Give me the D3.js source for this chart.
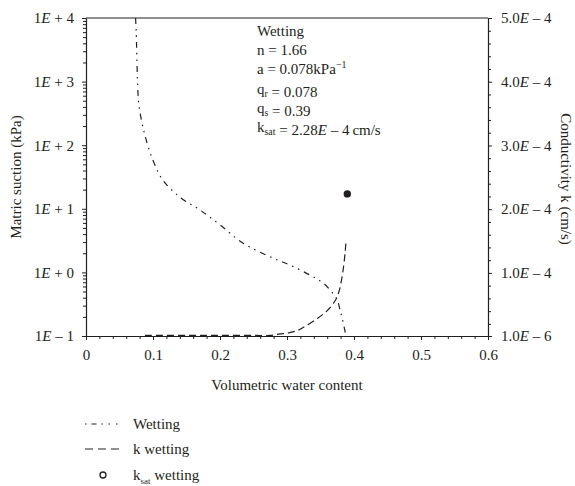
<!DOCTYPE html>
<html><head><meta charset="utf-8">
<script src="https://cdn.jsdelivr.net/npm/d3@7"></script>
<style>
body{margin:0;background:#fff;}
svg text{font-family:"Liberation Serif","Times New Roman",serif;fill:#231f20;}
</style></head>
<body><svg id="c" width="575" height="486"></svg>
<script>
// Wetting SWCC (volumetric water content vs matric suction, kPa)
const swccTheta   = [0.074,0.075,0.077,0.079,0.087,0.100,0.115,0.140,0.170,0.200,0.234,0.279,0.304,0.334,0.354,0.367,0.375,0.379,0.384,0.388];
const swccSuction = [10000,5800,950,430,156,58,28,15.3,9.6,5.6,2.9,1.68,1.31,0.91,0.68,0.49,0.37,0.26,0.16,0.1];
// k wetting (volumetric water content vs conductivity, cm/s)
const kTheta = [0.088,0.150,0.200,0.250,0.275,0.290,0.304,0.315,0.324,0.345,0.360,0.372,0.378,0.382,0.385,0.387,0.388];
const kValue = [2e-6,2e-6,2e-6,2e-6,2e-6,4.2e-6,6.3e-6,9.4e-6,1.42e-5,2.83e-5,4.09e-5,5.66e-5,7.23e-5,9.28e-5,1.148e-4,1.35e-4,1.48e-4];
// k_sat point
const ksatTheta = [0.39];
const ksatValue = [2.24e-4];
// ticks
const xTicks = [0,0.1,0.2,0.3,0.4,0.5,0.6];
const xTickLabels = ["0","0.1","0.2","0.3","0.4","0.5","0.6"];
const leftTicks = [0.1,1,10,100,1000,10000];
const leftTickExp = ["– 1","+ 0","+ 1","+ 2","+ 3","+ 4"];
const rightTicks = [1e-6,1e-4,2e-4,3e-4,4e-4,5e-4];
const rightTickMant = ["1.0","1.0","2.0","3.0","4.0","5.0"];
const rightTickExp = ["– 6","– 4","– 4","– 4","– 4","– 4"];
const annotation = ["Wetting","n = 1.66","a = 0.078kPa","q_r = 0.078","q_s = 0.39","k_sat = 2.28E – 4cm/s"];
const legendLabels = ["Wetting","k wetting","k_sat wetting"];

const svg = d3.select("#c");
const L=86,R=488,T=18,B=336;
const x = d3.scaleLinear().domain([0,0.6]).range([L,R]);
const yL = d3.scaleLog().domain([0.1,1e4]).range([B,T]);
const yR = d3.scaleLinear().domain([1e-6,5e-4]).range([B,T]);
const ink="#231f20";
const fs=15;

// top border
svg.append("line").attr("x1",L).attr("x2",R).attr("y1",T).attr("y2",T).attr("stroke",ink).attr("stroke-width",1.2);

function styleAxis(g){
  g.selectAll("path.domain").attr("stroke",ink).attr("stroke-width",1.2);
  g.selectAll(".tick line").attr("stroke",ink).attr("stroke-width",1);
  g.selectAll("text").attr("font-size",fs).attr("fill",ink).attr("font-family","Liberation Serif, serif");
}

// bottom axis
const minorX = d3.range(0,0.6001,0.02).filter(v=>Math.abs(Math.round(v*10)-v*10)>1e-6);
const gxm = svg.append("g").attr("transform",`translate(0,${B})`)
  .call(d3.axisBottom(x).tickValues(minorX).tickSize(3).tickFormat("").tickSizeOuter(0));
styleAxis(gxm); gxm.select("path.domain").remove();
const gx = svg.append("g").attr("transform",`translate(0,${B})`)
  .call(d3.axisBottom(x).tickValues(xTicks).tickSize(4).tickPadding(9).tickSizeOuter(0)
    .tickFormat((d,i)=>xTickLabels[i]));
styleAxis(gx);

// left axis (log)
const minorL=[];
for(let e=-1;e<4;e++){for(let m=2;m<=9;m++){minorL.push(m*Math.pow(10,e));}}
const gym = svg.append("g").attr("transform",`translate(${L},0)`)
  .call(d3.axisLeft(yL).tickValues(minorL).tickSize(3).tickFormat("").tickSizeOuter(0));
styleAxis(gym); gym.select("path.domain").remove();
const gy = svg.append("g").attr("transform",`translate(${L},0)`)
  .call(d3.axisLeft(yL).tickValues(leftTicks).tickSize(4).tickPadding(8).tickSizeOuter(0).tickFormat(()=>""));
styleAxis(gy);
gy.selectAll(".tick text").each(function(d,i){
  const t=d3.select(this); t.text(null);
  t.append("tspan").text("1");
  t.append("tspan").attr("font-style","italic").text("E");
  t.append("tspan").text(" "+leftTickExp[i]);
});

// right axis (linear)
const minorR = d3.range(1,25).map(i=>i*2e-5).filter((v,i)=>(i+1)%5!==0);
const grm = svg.append("g").attr("transform",`translate(${R},0)`)
  .call(d3.axisRight(yR).tickValues(minorR).tickSize(3).tickFormat("").tickSizeOuter(0));
styleAxis(grm); grm.select("path.domain").remove();
const gr = svg.append("g").attr("transform",`translate(${R},0)`)
  .call(d3.axisRight(yR).tickValues(rightTicks).tickSize(4).tickPadding(9).tickSizeOuter(0).tickFormat(()=>""));
styleAxis(gr);
gr.selectAll(".tick text").each(function(d,i){
  const t=d3.select(this); t.text(null);
  t.append("tspan").text(rightTickMant[i]);
  t.append("tspan").attr("font-style","italic").text("E");
  t.append("tspan").text(" "+rightTickExp[i]);
});

// axis titles
svg.append("text").attr("x",(L+R)/2).attr("y",390).attr("text-anchor","middle").attr("font-size",fs).text("Volumetric water content");
svg.append("text").attr("transform",`translate(21,${(T+B)/2}) rotate(-90)`).attr("text-anchor","middle").attr("font-size",fs).text("Matric suction (kPa)");
svg.append("text").attr("transform",`translate(561,${(T+B)/2+2}) rotate(90)`).attr("text-anchor","middle").attr("font-size",fs).text("Conductivity k (cm/s)");

// curves
const swcc = swccTheta.map((t,i)=>[t,swccSuction[i]]);
const kData = kTheta.map((t,i)=>[t,kValue[i]]);
svg.append("path").datum(swcc)
  .attr("d",d3.line().x(d=>x(d[0])).y(d=>yL(d[1])).curve(d3.curveCatmullRom.alpha(0.5)))
  .attr("fill","none").attr("stroke",ink).attr("stroke-width",1.2)
  .attr("stroke-dasharray","6,5,1.5,5,1.5,5");
svg.append("path").datum(kData)
  .attr("d",d3.line().x(d=>x(d[0])).y(d=>yR(d[1])).curve(d3.curveCatmullRom.alpha(0.5)))
  .attr("fill","none").attr("stroke",ink).attr("stroke-width",1.2)
  .attr("stroke-dasharray","7,4");
svg.selectAll("circle.ksat").data(ksatTheta.map((t,i)=>[t,ksatValue[i]])).enter()
  .append("circle").attr("class","ksat").attr("cx",d=>x(d[0])).attr("cy",d=>yR(d[1])).attr("r",3.7).attr("fill",ink);

// annotation
function richText(sel, s){
  const m = s.match(/^(\w)_(\w+)(.*)$/);
  let rest = s;
  if(m){
    sel.append("tspan").text(m[1]);
    sel.append("tspan").attr("font-size",fs*0.66).attr("dy",3).text(m[2]);
    sel.append("tspan").attr("dy",-3).text("");
    rest = m[3];
  }
  const parts = rest.split("E");
  parts.forEach((p,j)=>{
    if(j>0) sel.append("tspan").attr("font-style","italic").text("E");
    sel.append("tspan").text(p);
  });
}
const ann = svg.append("g");
annotation.forEach((s,i)=>{
  const t = ann.append("text").attr("x",257).attr("y",36+i*19.2).attr("font-size",fs);
  if(s==="a = 0.078kPa"){
    t.append("tspan").text(s);
    t.append("tspan").attr("font-size",fs*0.66).attr("dy",-6).text("−1");
  } else if(s.startsWith("k_sat")){
    richText(t, "k_sat = 2.28E – 4\u2009cm/s");
  } else if(s.startsWith("q_")){
    richText(t, s);
  } else t.text(s);
});

// legend
const lg = svg.append("g");
const legY = [424,449,475];
lg.append("line").attr("x1",85).attr("x2",120).attr("y1",legY[0]).attr("y2",legY[0])
  .attr("stroke",ink).attr("stroke-width",1.2).attr("stroke-dasharray","1.5,5,5,5,1.5,5.5,1.5,6,1.5,20");
lg.append("line").attr("x1",85).attr("x2",120).attr("y1",legY[1]).attr("y2",legY[1])
  .attr("stroke",ink).attr("stroke-width",1.2).attr("stroke-dasharray","8,5");
lg.append("circle").attr("cx",103).attr("cy",legY[2]).attr("r",3).attr("fill","none").attr("stroke",ink).attr("stroke-width",1.3);
legendLabels.forEach((s,i)=>{
  const t = lg.append("text").attr("x",133).attr("y",legY[i]+5).attr("font-size",fs);
  if(s.startsWith("k_sat")){
    t.append("tspan").text("k");
    t.append("tspan").attr("font-size",fs*0.6).attr("dy",4).text("sat");
    t.append("tspan").attr("dy",-4).text(" wetting");
  } else t.text(s);
});
</script>
</body></html>
